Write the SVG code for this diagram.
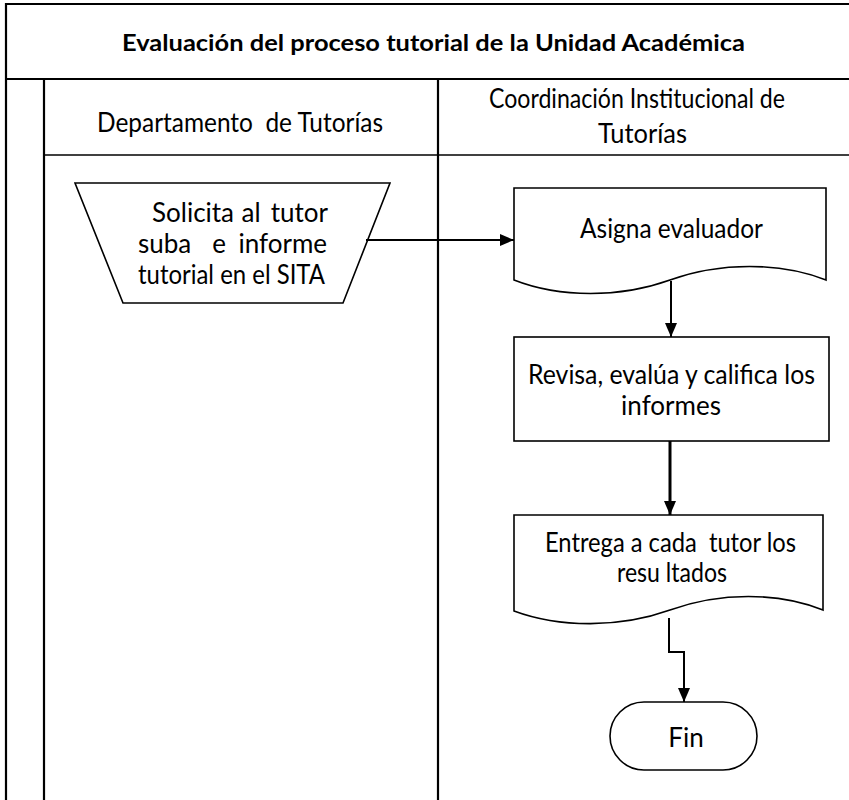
<svg xmlns="http://www.w3.org/2000/svg" width="849" height="800" viewBox="0 0 849 800">
  <style>
    .frame { fill: none; stroke: #000; stroke-width: 2.2; }
    .shape { fill: #fff; stroke: #000; stroke-width: 1.6; }
    .wire { fill: none; stroke: #000; stroke-width: 2; }
    .txt { font-family: Lato, "Open Sans", sans-serif; font-size: 26px; fill: #000; }
    .title { font-family: Lato, "Open Sans", sans-serif; font-size: 22px; font-weight: bold; fill: #000; }
  </style>
  <defs>
    <marker id="arrowBig" viewBox="0 0 14 12" refX="14" refY="6" markerWidth="14" markerHeight="12" markerUnits="userSpaceOnUse" orient="auto">
      <path d="M0,0 L14,6 L0,12 Z" fill="#000"/>
    </marker>
  </defs>
  <rect width="849" height="800" fill="#fff"/>

  <!-- swimlane frame -->
  <g id="frame">
    <line class="frame" x1="6" y1="4" x2="849" y2="4"/>
    <line class="frame" x1="6" y1="3" x2="6" y2="800"/>
    <line class="frame" x1="6" y1="79" x2="849" y2="79"/>
    <line class="frame" x1="44" y1="79" x2="44" y2="800"/>
    <line class="frame" x1="438" y1="79" x2="438" y2="800"/>
    <line class="frame" x1="44" y1="155" x2="849" y2="155" style="stroke-width:1.6"/>
    <text class="title" x="122" y="51" textLength="623" lengthAdjust="spacingAndGlyphs">Evaluación del proceso tutorial de la Unidad Académica</text>
  </g>

  <g id="lane-departamento">
    <text class="txt" x="97" y="132" textLength="286" lengthAdjust="spacingAndGlyphs" xml:space="preserve">Departamento  de Tutorías</text>
  </g>
  <g id="lane-coordinacion">
    <text class="txt" x="489" y="108" textLength="296" lengthAdjust="spacingAndGlyphs">Coordinación Institucional de</text>
    <text class="txt" x="598" y="143" textLength="89" lengthAdjust="spacingAndGlyphs">Tutorías</text>
  </g>

  <!-- manual operation: request (justified text) -->
  <g id="solicita">
    <path class="shape" d="M75,183 L390,183 L343,303 L123,303 Z"/>
    <text class="txt" x="152" y="222">Solicita</text>
    <text class="txt" x="251" y="222" text-anchor="middle">al</text>
    <text class="txt" x="328" y="222" text-anchor="end">tutor</text>
    <text class="txt" x="138" y="253">suba</text>
    <text class="txt" x="219" y="253" text-anchor="middle">e</text>
    <text class="txt" x="327" y="253" text-anchor="end">informe</text>
    <text class="txt" x="138" y="284" textLength="187" lengthAdjust="spacingAndGlyphs">tutorial en el SITA</text>
  </g>

  <!-- document: assign evaluator -->
  <g id="asigna">
    <path class="shape" d="M514,188 L826,188 L826,280 C780,262 720,262 670,280 C620,298 560,298 514,280 Z"/>
    <text class="txt" x="580" y="238" textLength="183" lengthAdjust="spacingAndGlyphs">Asigna evaluador</text>
  </g>

  <!-- process: review -->
  <g id="revisa">
    <rect class="shape" x="514" y="337" width="315" height="104"/>
    <text class="txt" x="528" y="384" textLength="287" lengthAdjust="spacingAndGlyphs">Revisa, evalúa y califica los</text>
    <text class="txt" x="671" y="415" text-anchor="middle">informes</text>
  </g>

  <!-- document: deliver results -->
  <g id="entrega">
    <path class="shape" d="M514,515 L823,515 L823,610 C778,592 720,592 670,610 C620,628 560,628 514,611 Z"/>
    <text class="txt" x="545" y="552" textLength="251" lengthAdjust="spacingAndGlyphs" xml:space="preserve">Entrega a cada  tutor los</text>
    <text class="txt" x="617" y="582" textLength="110" lengthAdjust="spacingAndGlyphs">resu ltados</text>
  </g>

  <!-- terminator -->
  <g id="fin">
    <rect class="shape" x="610" y="702" width="147" height="68" rx="34" ry="34"/>
    <text class="txt" x="686" y="747" text-anchor="middle">Fin</text>
  </g>

  <g id="connectors">
    <line class="wire" x1="366" y1="240" x2="514" y2="240" marker-end="url(#arrowBig)"/>
    <line class="wire" x1="671" y1="281" x2="671" y2="337" marker-end="url(#arrowBig)"/>
    <line class="wire" x1="670" y1="441" x2="670" y2="515" style="stroke-width:3" marker-end="url(#arrowBig)"/>
    <polyline class="wire" points="669,618 669,652 684,652 684,702" marker-end="url(#arrowBig)"/>
  </g>
</svg>
